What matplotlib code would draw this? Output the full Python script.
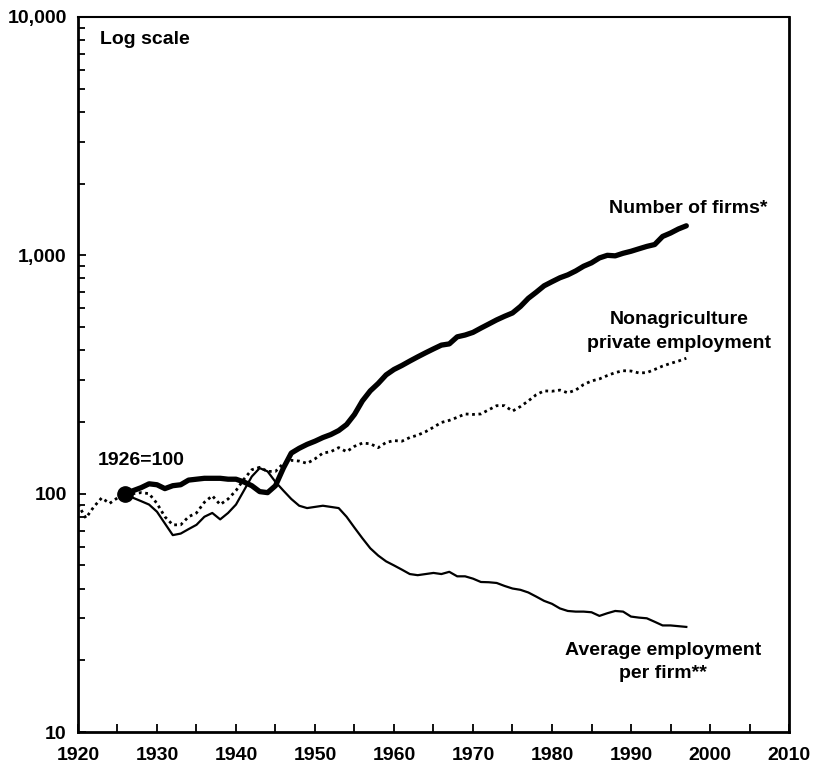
import numpy as np
import matplotlib
matplotlib.use("Agg")
import matplotlib.pyplot as plt
from matplotlib.ticker import LogLocator, FixedLocator, NullFormatter

# index values, 1926 = 100
emp_years = list(range(1920, 1998))
nonag_emp = [90, 79, 88, 96, 91, 96, 100, 100, 101, 100,
             91, 80, 74, 74, 80, 83, 92, 98, 90, 95,
             103, 115, 126, 129, 124, 124, 134, 138, 137, 134,
             140, 148, 150, 156, 150, 158, 163, 162, 156, 164,
             167, 166, 172, 176, 182, 190, 199, 203, 209, 216,
             215, 216, 225, 234, 234, 222, 232, 245, 260, 270,
             269, 272, 265, 272, 287, 297, 303, 313, 322, 328,
             327, 321, 322, 332, 343, 352, 360, 370]

firm_years = list(range(1926, 1998))
num_firms = [100, 103, 106, 110, 109, 105, 108, 109, 114, 115,
             116, 116, 116, 115, 115, 112, 108, 102, 101, 108,
             128, 148, 155, 161, 166, 172, 177, 184, 195, 215,
             245, 270, 290, 315, 332, 345, 360, 375, 390, 405,
             420, 425, 455, 463, 475, 495, 515, 536, 555, 573,
             610, 660, 700, 745, 775, 805, 828, 860, 900, 930,
             975, 1000, 995, 1020, 1040, 1065, 1090, 1110, 1200, 1240,
             1290, 1330]
avg_emp = [100, 96, 93, 90, 84, 75, 67, 68, 71, 74,
           80, 83, 78, 83, 90, 103, 118, 128, 124, 112,
           103, 95, 89, 87, 88, 89, 88, 87, 80, 72,
           65, 59, 55, 52, 50, 48, 46, 45.5, 46, 46.5,
           46, 47, 45, 45, 44, 42.6, 42.5, 42.2, 41, 40,
           39.5, 38.5, 37, 35.5, 34.5, 33, 32.2, 32, 32, 31.8,
           30.7, 31.5, 32.2, 32, 30.5, 30.2, 30, 29, 28, 28,
           27.8, 27.6]

base_year = 1926
base_value = 100

plt.rcParams['font.family'] = ['Liberation Sans', 'DejaVu Sans']
plt.rcParams['font.weight'] = 'bold'

fig = plt.figure(figsize=(8.13, 7.72), dpi=100)
ax = fig.add_axes([0.0959, 0.0518, 0.8746, 0.9262])

ax.plot(emp_years, nonag_emp, color='black', lw=2.0, ls=(0, (1, 1.3)))
ax.plot(firm_years, avg_emp, color='black', lw=1.6)
ax.plot(firm_years, num_firms, color='black', lw=3.8, solid_capstyle='round')
ax.plot([base_year], [base_value], 'o', color='black', ms=11)

ax.set_yscale('log')
ax.set_xlim(1920, 2010)
ax.set_ylim(10, 10000)

ax.set_xticks(range(1920, 2011, 10))
ax.xaxis.set_minor_locator(FixedLocator(range(1925, 2010, 10)))
ax.set_yticks([10, 100, 1000, 10000])
ax.set_yticklabels(['10', '100', '1,000', '10,000'])
ax.yaxis.set_minor_locator(LogLocator(base=10, subs=np.arange(2, 10)))
ax.yaxis.set_minor_formatter(NullFormatter())

ax.tick_params(axis='x', which='both', direction='in', length=6, width=1.3,
               labelsize=14, pad=11, top=False)
ax.tick_params(axis='y', which='major', direction='in', length=6, width=1.3,
               labelsize=14, pad=8, right=False)
ax.tick_params(axis='y', which='minor', direction='in', length=5, width=1.3,
               right=False)
for lab in ax.get_xticklabels() + ax.get_yticklabels():
    lab.set_fontweight('bold')

for side in ['left', 'bottom', 'right']:
    ax.spines[side].set_linewidth(2.0)
ax.spines['top'].set_linewidth(1.5)

ax.text(0.031, 0.968, 'Log scale', transform=ax.transAxes, fontsize=14,
        fontweight='bold', va='center', ha='left')
ax.text(1928.0, 138, '1926=100', fontsize=14, fontweight='bold',
        va='center', ha='center')
ax.text(1997.3, 1570, 'Number of firms*', fontsize=14, fontweight='bold',
        va='center', ha='center')
ax.text(1996.1, 478, 'Nonagriculture\nprivate employment', fontsize=14,
        fontweight='bold', va='center', ha='center', linespacing=1.5)
ax.text(1994.1, 19.7, 'Average employment\nper firm**', fontsize=14,
        fontweight='bold', va='center', ha='center', linespacing=1.5)

fig.savefig('out.png', dpi=100)
